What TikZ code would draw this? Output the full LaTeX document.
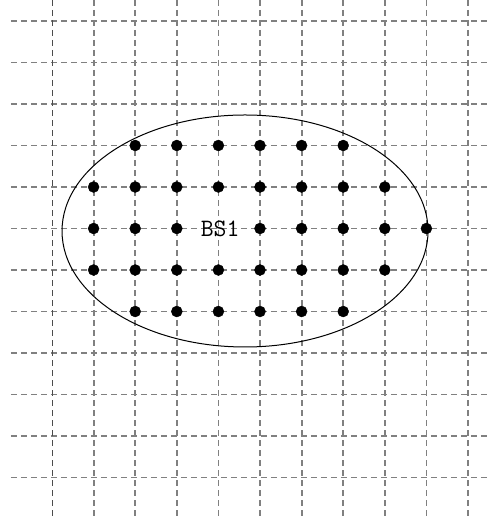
\documentclass[tikz,border=0pt]{standalone}
\usepackage{fontspec}
\usetikzlibrary{positioning, shapes.geometric}

\begin{document}
\begin{tikzpicture}[
    x=41.6pt, y=-41.5pt,
    gridline/.style={draw=gray, line width=1.8pt, dash pattern=on 6pt off 4pt},
    edgeline/.style={draw=black!70, line width=1pt, dash pattern=on 6pt off 4pt},
    site/.style={draw, fill=black, circle, inner sep=0pt, minimum size=11pt},
    cellarea/.style={draw, line width=1pt, ellipse, minimum width=366pt, minimum height=232pt},
    bslabel/.style={font=\ttfamily\fontsize{25}{29}\selectfont, inner sep=0pt}
]
\useasboundingbox (-1.25,-0.506) rectangle (10.481,12.024);

% Grid
\foreach \j in {0,...,11}
    \draw[gridline] (-0.986,\j) -- (10.481,\j);
\draw[edgeline] (0,-0.506) -- (0,12.024);
\foreach \i in {1,...,10}
    \draw[gridline] (\i,-0.506) -- (\i,12.024);

% Coverage of BS1
\node[cellarea] (cell) at (4.64,5.06) {};
\node[bslabel] (bs) at (4.04,5) {BS1};

% Sites
\foreach \c in {2,...,7}
    \node[site] (s3-\c) at (\c,3) {};
\foreach \c in {1,...,8}
    \node[site] (s4-\c) at (\c,4) {};
\foreach \c in {1,2,3,5,6,7,8,9}
    \node[site] (s5-\c) at (\c,5) {};
\foreach \c in {1,...,8}
    \node[site] (s6-\c) at (\c,6) {};
\foreach \c in {2,...,7}
    \node[site] (s7-\c) at (\c,7) {};

\end{tikzpicture}
\end{document}
